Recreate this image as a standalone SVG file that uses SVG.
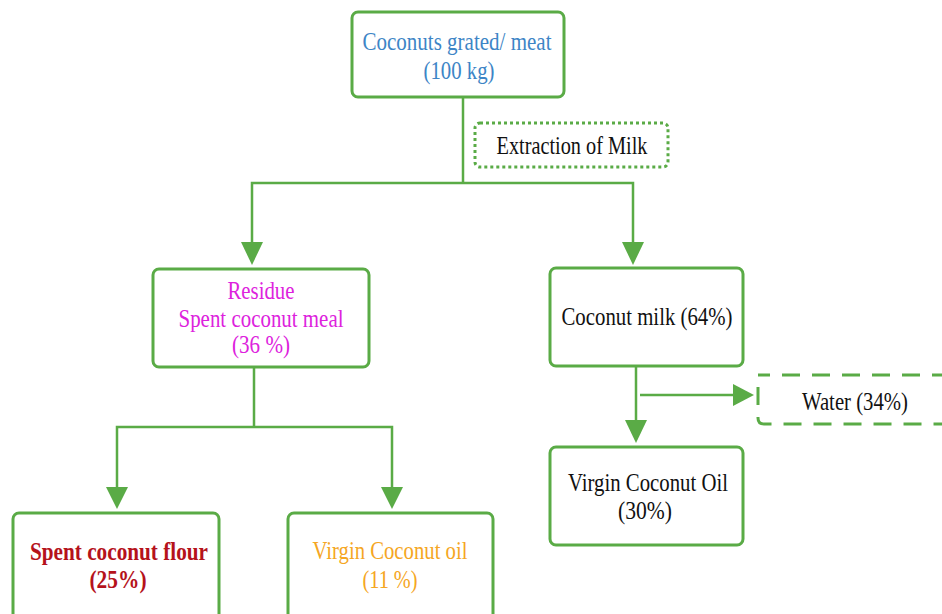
<svg xmlns="http://www.w3.org/2000/svg" width="942" height="614" viewBox="0 0 942 614">
<defs>
<style>
.box{fill:#fff;stroke:#5aab46;stroke-width:3}
.ln{fill:none;stroke:#5aab46;stroke-width:2.5}
.ah{fill:#5aab46}
text{font-family:"Liberation Serif","Times New Roman",serif;font-size:25px;text-anchor:middle}
</style>
</defs>
<rect width="942" height="614" fill="#fff"/>
<g id="connectors">
<polyline class="ln" points="463,97 463,183"/>
<polyline class="ln" points="252,244 252,183 633,183 633,244"/>
<polygon class="ah" points="241,242 263,242 252,265"/>
<polygon class="ah" points="622,242 644,242 633,265"/>
<polyline class="ln" points="254,367 254,427"/>
<polyline class="ln" points="117,489 117,427 392,427 392,489"/>
<polygon class="ah" points="106,487 128,487 117,509"/>
<polygon class="ah" points="381,487 403,487 392,509"/>
<polyline class="ln" points="636,366 636,422"/>
<polygon class="ah" points="625,420 647,420 636,443"/>
<polyline class="ln" points="640,395 735,395"/>
<polygon class="ah" points="733,384 733,406 754,395"/>
</g>
<g id="n_top">
<rect class="box" x="352" y="12" width="212" height="85" rx="6"/>
<text x="457" y="50" fill="#3d85c6" textLength="189" lengthAdjust="spacingAndGlyphs">Coconuts grated/ meat</text>
<text x="459" y="79" fill="#3d85c6" textLength="71" lengthAdjust="spacingAndGlyphs">(100 kg)</text>
</g>
<g id="n_extraction">
<rect x="475" y="123" width="193" height="44" rx="5" fill="#fff" stroke="#5aab46" stroke-width="3" stroke-dasharray="3,3"/>
<text x="572" y="154" fill="#111" textLength="151" lengthAdjust="spacingAndGlyphs">Extraction of Milk</text>
</g>
<g id="n_residue">
<rect class="box" x="153" y="269" width="216" height="98" rx="6"/>
<text x="261" y="299" fill="#dd22dd" textLength="67" lengthAdjust="spacingAndGlyphs">Residue</text>
<text x="261" y="327" fill="#dd22dd" textLength="165" lengthAdjust="spacingAndGlyphs">Spent coconut meal</text>
<text x="261" y="353" fill="#dd22dd" textLength="58" lengthAdjust="spacingAndGlyphs">(36 %)</text>
</g>
<g id="n_milk">
<rect class="box" x="550" y="268" width="193" height="98" rx="6"/>
<text x="647" y="325" fill="#111" textLength="171" lengthAdjust="spacingAndGlyphs">Coconut milk (64%)</text>
</g>
<g id="n_water">
<path d="M950,375 L758,375 M758,387 L758,418 Q758,424 764,424 L950,424" fill="none" stroke="#5aab46" stroke-width="3" stroke-dasharray="18,12"/>
<text x="855" y="410" fill="#111" textLength="106" lengthAdjust="spacingAndGlyphs">Water (34%)</text>
</g>
<g id="n_vco">
<rect class="box" x="550" y="447" width="193" height="98" rx="6"/>
<text x="648" y="491" fill="#111" textLength="160" lengthAdjust="spacingAndGlyphs">Virgin Coconut Oil</text>
<text x="645" y="519" fill="#111" textLength="54" lengthAdjust="spacingAndGlyphs">(30%)</text>
</g>
<g id="n_flour">
<rect class="box" x="13" y="513" width="206" height="110" rx="6"/>
<text x="119" y="560" fill="#b5121b" font-weight="bold" textLength="178" lengthAdjust="spacingAndGlyphs">Spent coconut flour</text>
<text x="118" y="588" fill="#b5121b" font-weight="bold" textLength="57" lengthAdjust="spacingAndGlyphs">(25%)</text>
</g>
<g id="n_vcooil">
<rect class="box" x="288" y="513" width="205" height="110" rx="6"/>
<text x="390" y="559" fill="#f5a623" textLength="155" lengthAdjust="spacingAndGlyphs">Virgin Coconut oil</text>
<text x="390" y="588" fill="#f5a623" textLength="55" lengthAdjust="spacingAndGlyphs">(11 %)</text>
</g>
</svg>
